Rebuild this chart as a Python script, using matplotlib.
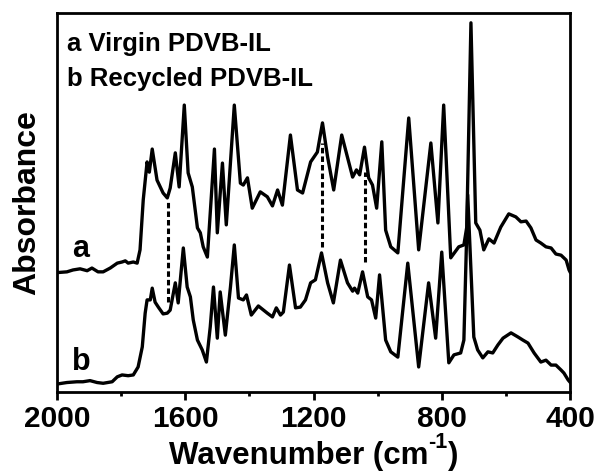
import matplotlib
matplotlib.use("Agg")
import matplotlib.pyplot as plt
from matplotlib.ticker import MultipleLocator

plt.rcParams['font.family'] = ['Liberation Sans', 'DejaVu Sans']
plt.rcParams['font.weight'] = 'bold'

# Spectrum a: Virgin PDVB-IL
wn_a = [2000, 1969, 1950, 1928, 1906, 1891, 1872, 1856, 1834, 1812, 1797, 1787, 1778, 1762, 1750,
        1741, 1731, 1719, 1712, 1703, 1688, 1669, 1656, 1647, 1631, 1619, 1603, 1591, 1578, 1562,
        1553, 1544, 1531, 1509, 1500, 1484, 1472, 1447, 1428, 1419, 1406, 1391, 1366, 1344, 1328,
        1312, 1297, 1272, 1250, 1234, 1209, 1188, 1172, 1156, 1137, 1112, 1078, 1066, 1056, 1041,
        1028, 1016, 1003, 987, 975, 959, 937, 903, 872, 834, 812, 794, 772, 747, 731, 722, 709,
        694, 681, 669, 653, 637, 616, 591, 569, 553, 537, 522, 506, 491, 475, 459, 444, 428, 412,
        403, 400]
abs_a = [0.315, 0.317, 0.322, 0.325, 0.320, 0.327, 0.317, 0.317, 0.327, 0.340, 0.343, 0.346, 0.340,
         0.343, 0.340, 0.375, 0.507, 0.607, 0.580, 0.641, 0.559, 0.525, 0.512, 0.538, 0.631, 0.541,
         0.757, 0.578, 0.541, 0.433, 0.420, 0.383, 0.356, 0.641, 0.420, 0.604, 0.441, 0.757, 0.551,
         0.546, 0.565, 0.485, 0.528, 0.515, 0.491, 0.533, 0.493, 0.678, 0.533, 0.525, 0.607, 0.633,
         0.710, 0.620, 0.533, 0.678, 0.567, 0.586, 0.573, 0.646, 0.565, 0.546, 0.485, 0.660, 0.427,
         0.383, 0.367, 0.723, 0.375, 0.657, 0.446, 0.757, 0.354, 0.383, 0.388, 0.435, 0.974, 0.446,
         0.427, 0.375, 0.404, 0.393, 0.435, 0.470, 0.462, 0.449, 0.451, 0.433, 0.401, 0.393, 0.383,
         0.380, 0.364, 0.361, 0.348, 0.322, 0.317]

# Spectrum b: Recycled PDVB-IL
wn_b = [2000, 1969, 1938, 1919, 1897, 1875, 1856, 1828, 1812, 1797, 1778, 1762, 1747, 1734, 1725,
        1719, 1709, 1703, 1694, 1684, 1669, 1656, 1647, 1641, 1631, 1622, 1606, 1594, 1584, 1575,
        1562, 1547, 1534, 1522, 1512, 1500, 1491, 1475, 1459, 1447, 1434, 1419, 1409, 1394, 1372,
        1344, 1328, 1316, 1303, 1294, 1275, 1256, 1241, 1225, 1209, 1194, 1175, 1156, 1138, 1116,
        1094, 1078, 1072, 1062, 1047, 1031, 1019, 1006, 994, 975, 959, 937, 906, 872, 841, 819,
        800, 778, 762, 741, 731, 719, 700, 688, 672, 656, 641, 625, 609, 584, 562, 547, 531, 512,
        491, 475, 459, 444, 428, 419, 406, 400]
abs_b = [0.021, 0.025, 0.027, 0.027, 0.030, 0.025, 0.023, 0.027, 0.040, 0.045, 0.043, 0.045, 0.066,
         0.119, 0.208, 0.243, 0.243, 0.274, 0.237, 0.224, 0.206, 0.208, 0.216, 0.243, 0.288, 0.235,
         0.380, 0.277, 0.251, 0.190, 0.137, 0.111, 0.079, 0.172, 0.277, 0.142, 0.264, 0.150, 0.277,
         0.388, 0.248, 0.243, 0.256, 0.203, 0.227, 0.208, 0.198, 0.222, 0.203, 0.211, 0.335, 0.222,
         0.224, 0.243, 0.288, 0.296, 0.367, 0.288, 0.235, 0.348, 0.288, 0.266, 0.274, 0.261, 0.317,
         0.251, 0.243, 0.195, 0.309, 0.137, 0.106, 0.092, 0.340, 0.066, 0.288, 0.142, 0.369, 0.077,
         0.098, 0.103, 0.137, 0.520, 0.145, 0.111, 0.090, 0.106, 0.103, 0.124, 0.142, 0.156, 0.145,
         0.137, 0.129, 0.103, 0.079, 0.084, 0.071, 0.071, 0.058, 0.050, 0.032, 0.026]

# Dashed guide lines connecting matching bands
dash_wn = [1654, 1173, 1040]
dash_top = [0.507, 0.657, 0.580]
dash_bottom = [0.237, 0.383, 0.343]

curve_labels = ['a', 'b']
curve_label_pos = [(1925, 0.377), (1925, 0.079)]
legend_lines = ['a Virgin PDVB-IL', 'b Recycled PDVB-IL']

xticks_major = [2000, 1600, 1200, 800, 400]

fig = plt.figure(figsize=(5.98, 4.72), dpi=100)
ax = fig.add_axes([0.0953, 0.1695, 0.8579, 0.803])

ax.plot(wn_a, abs_a, color='black', lw=2.4, solid_joinstyle='round')
ax.plot(wn_b, abs_b, color='black', lw=2.4, solid_joinstyle='round')
ax.vlines(dash_wn, dash_bottom, dash_top, colors='black', lw=2.2, linestyles=(0, (1.8, 1.0)))

for lab, (xx, yy) in zip(curve_labels, curve_label_pos):
    ax.text(xx, yy, lab, fontsize=22, fontweight='bold', ha='center', va='center')

ax.text(0.0195, 0.900, legend_lines[0], transform=ax.transAxes, fontsize=18.5,
        fontweight='bold', ha='left', va='baseline')
ax.text(0.0195, 0.807, legend_lines[1], transform=ax.transAxes, fontsize=18.5,
        fontweight='bold', ha='left', va='baseline')

ax.set_xlim(2000, 400)
ax.set_ylim(0, 1)
ax.set_xticks(xticks_major)
ax.xaxis.set_minor_locator(MultipleLocator(200))
ax.set_yticks([])
ax.tick_params(axis='x', which='major', direction='out', length=6, width=2, labelsize=21.5, pad=3.5)
ax.tick_params(axis='x', which='minor', direction='out', length=3, width=2)
for lbl in ax.get_xticklabels():
    lbl.set_fontweight('bold')
for sp in ax.spines.values():
    sp.set_linewidth(2)

ax.set_ylabel('Absorbance', fontsize=23, fontweight='bold', labelpad=11)

# x-axis label built from pieces so the superscript keeps a plain hyphen
W, H = fig.get_size_inches() * fig.dpi
base_y = 1 - 464 / H
sup_y = 1 - 448 / H
t1 = fig.text(0, base_y, 'Wavenumber (cm', fontsize=22.5, fontweight='bold', va='baseline')
t2 = fig.text(0, sup_y, '-1', fontsize=15.5, fontweight='bold', va='baseline')
t3 = fig.text(0, base_y, ')', fontsize=22.5, fontweight='bold', va='baseline')
fig.canvas.draw()
r = fig.canvas.get_renderer()
w1 = t1.get_window_extent(r).width
w2 = t2.get_window_extent(r).width
w3 = t3.get_window_extent(r).width
total = w1 + w2 + w3
bb = ax.get_window_extent(r)
cx = (bb.x0 + bb.x1) / 2
x0 = cx - total / 2
t1.set_x(x0 / W)
t2.set_x((x0 + w1) / W)
t3.set_x((x0 + w1 + w2) / W)

fig.savefig('out.png', dpi=100)
